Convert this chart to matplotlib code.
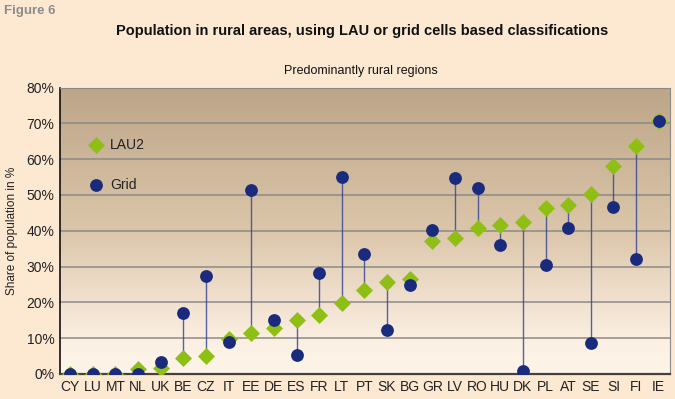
import numpy as np
import matplotlib.pyplot as plt
from matplotlib.colors import LinearSegmentedColormap
from matplotlib.ticker import PercentFormatter

countries = ["CY", "LU", "MT", "NL", "UK", "BE", "CZ", "IT", "EE", "DE", "ES", "FR", "LT", "PT",
             "SK", "BG", "GR", "LV", "RO", "HU", "DK", "PL", "AT", "SE", "SI", "FI", "IE"]
lau2 = [0.0, 0.0, 0.0, 1.4, 1.8, 4.4, 5.0, 9.9, 11.4, 12.9, 15.0, 16.6, 19.9, 23.5,
        25.7, 26.4, 37.1, 38.1, 40.9, 41.5, 42.5, 46.4, 47.1, 50.2, 58.0, 63.6, 70.7]
grid = [0.0, 0.0, 0.0, 0.0, 3.3, 17.1, 27.5, 8.8, 51.3, 15.0, 5.3, 28.3, 55.1, 33.6,
        12.4, 24.9, 40.2, 54.8, 52.0, 35.9, 0.7, 30.5, 40.7, 8.7, 46.6, 32.2, 70.7]
yticks = [0, 10, 20, 30, 40, 50, 60, 70, 80]

narrow = ["DejaVu Sans Condensed", "Liberation Sans Narrow", "Liberation Sans", "DejaVu Sans"]
plain = ["Liberation Sans", "DejaVu Sans"]

fig = plt.figure(figsize=(6.75, 3.99), dpi=100, facecolor="#fde9d2")
ax = fig.add_axes([0.0889, 0.0627, 0.9037, 0.718])

x = np.arange(len(countries))

# gradient background of the plot area
bg = LinearSegmentedColormap.from_list("bg", [(0, "#fdf5ea"), (0.12, "#fbefe2"), (0.5, "#dcc6aa"),
                                              (1, "#bca588")])
grad = np.linspace(0, 1, 256).reshape(-1, 1)
ax.imshow(grad, cmap=bg, aspect="auto", origin="lower", extent=[0, 1, 0, 1],
          transform=ax.transAxes, zorder=0)

for v in yticks[1:]:
    ax.axhline(v, color="#8c8a86", linewidth=1.1, zorder=1)

# connectors between the two classifications
ax.vlines(x, lau2, grid, color="#3b4796", linewidth=1.0, alpha=0.85, zorder=2)
ax.scatter(x, lau2, marker="D", s=75, color="#8fbf14", zorder=3, linewidths=0)
ax.scatter(x, grid, marker="o", s=85, color="#1a2a7c", zorder=4, linewidths=0)

ax.set_xlim(-0.45, 26.5)
ax.set_ylim(0, 80)
ax.set_yticks(yticks)
ax.yaxis.set_major_formatter(PercentFormatter(decimals=0))
ax.set_xticks(x)
ax.set_xticklabels(countries, fontsize=10, family=plain, color="#222222")
for lab in ax.get_yticklabels():
    lab.set_fontsize(10)
    lab.set_family(plain)
    lab.set_color("#222222")
ax.tick_params(length=0, pad=4)
ax.set_ylabel("Share of population in %", fontsize=8.5, family=plain, color="#222222", labelpad=6)

ax.spines["left"].set_color("#111111")
ax.spines["left"].set_linewidth(1.2)
ax.spines["bottom"].set_color("#4a403a")
ax.spines["bottom"].set_linewidth(1.6)
ax.spines["top"].set_color("#8c8a86")
ax.spines["right"].set_color("#8c8a86")

# legend drawn by hand inside the plot
ax.scatter([1.15], [64], marker="D", s=75, color="#8fbf14", linewidths=0, zorder=5)
ax.text(1.75, 64, "LAU2", fontsize=10, family=plain, va="center", color="#222222")
ax.scatter([1.15], [52.8], marker="o", s=85, color="#1a2a7c", linewidths=0, zorder=5)
ax.text(1.75, 52.8, "Grid", fontsize=10, family=plain, va="center", color="#222222")

fig.text(0.006, 0.972, "Figure 6", fontsize=9.5, fontweight="bold", family=plain,
         color="#8c8c8c", va="center", ha="left")
fig.text(0.537, 0.922, "Population in rural areas, using LAU or grid cells based classifications",
         fontsize=10.5, fontweight="bold", family=narrow, color="#111111", ha="center", va="center")
fig.text(0.535, 0.822, "Predominantly rural regions", fontsize=9, family=narrow,
         color="#111111", ha="center", va="center")

fig.savefig("out.png", dpi=100, facecolor=fig.get_facecolor())
